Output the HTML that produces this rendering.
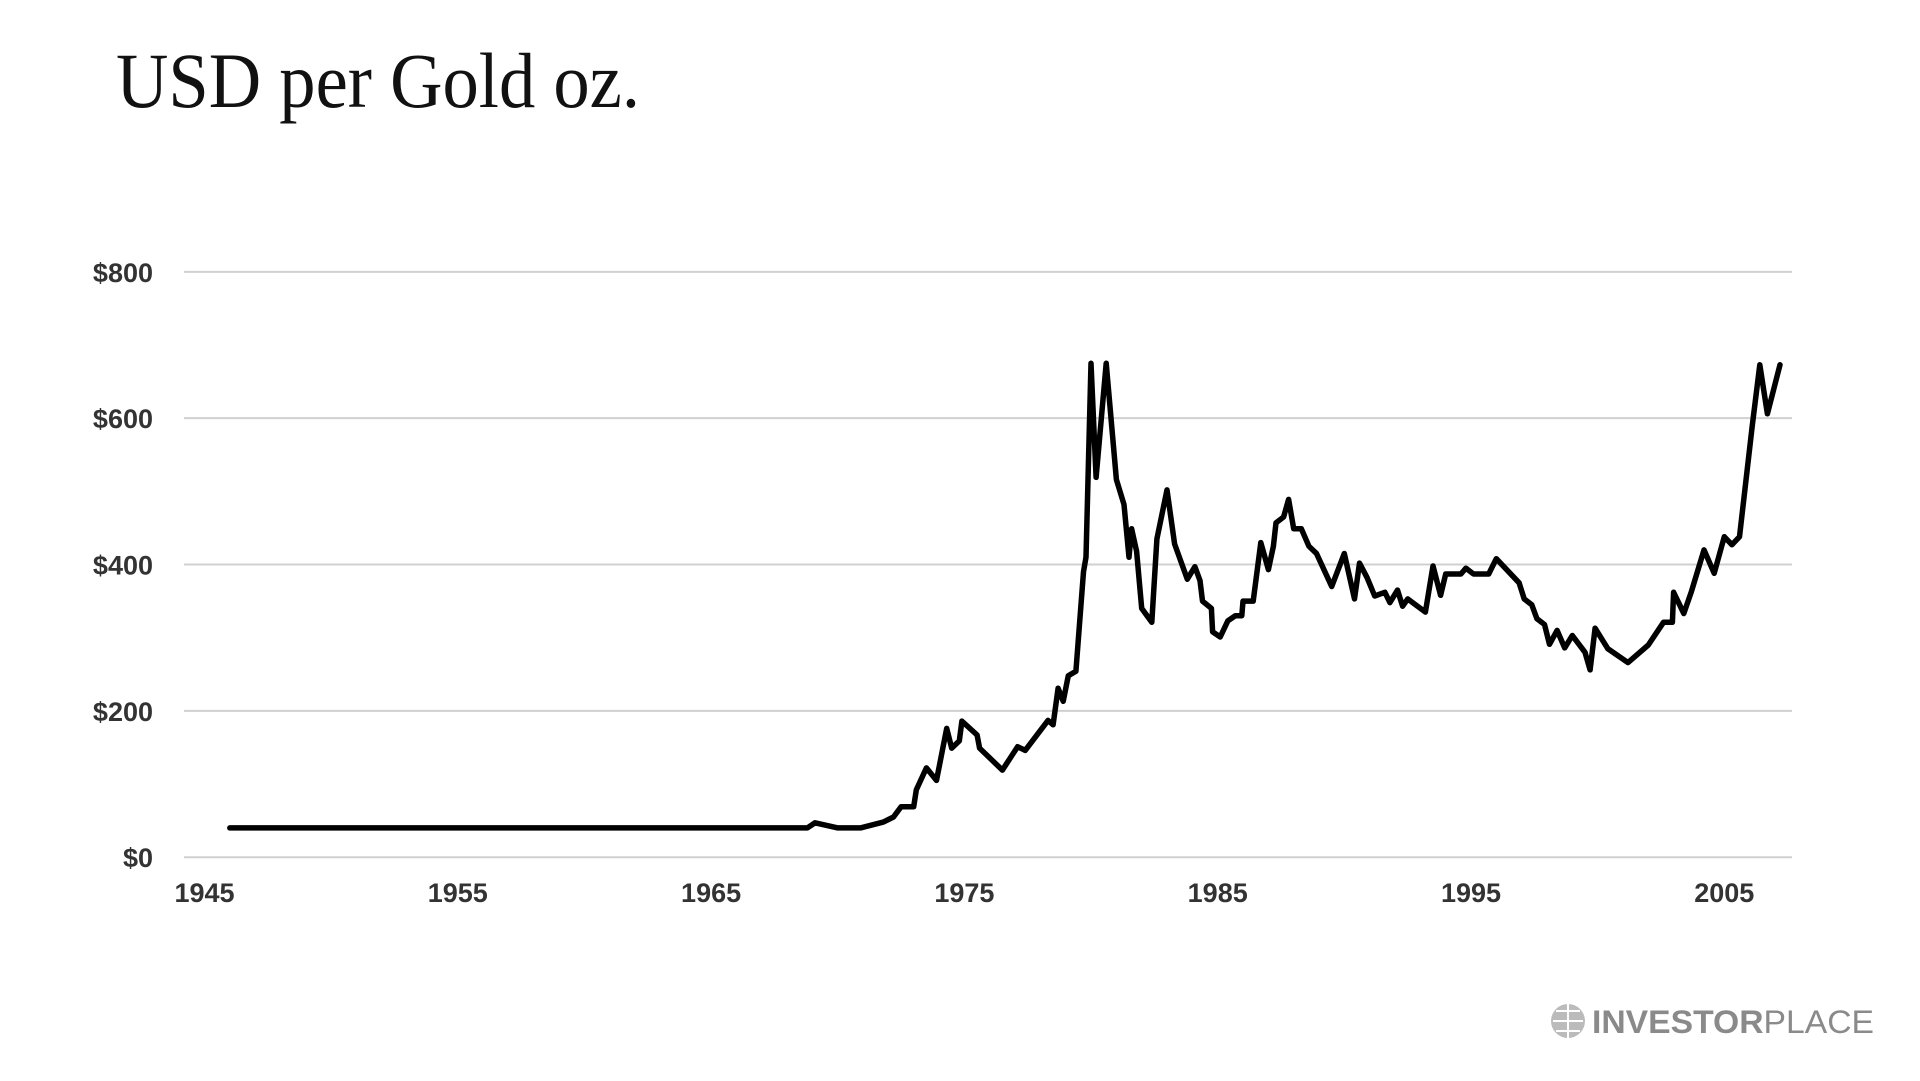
<!DOCTYPE html>
<html><head><meta charset="utf-8"><style>
html,body{margin:0;padding:0;background:#fff;width:1920px;height:1081px;overflow:hidden}
svg{display:block}
</style></head><body>
<svg id="chart" width="1920" height="1081" viewBox="0 0 1920 1081" xmlns="http://www.w3.org/2000/svg">
<text x="116" y="107" font-family="'Liberation Serif',serif" font-size="78" textLength="524" lengthAdjust="spacingAndGlyphs" fill="#111">USD per Gold oz.</text>
<g id="grid"></g>
<g id="ylabels"></g>
<g id="xlabels"></g>
<path id="line" fill="none" stroke="#000" stroke-width="5.5" stroke-linejoin="round" stroke-linecap="round"/>
<g>
<circle cx="1568" cy="1021" r="17" fill="#bbb"/>
<path d="M1553 1021h30M1568 1004v34M1556 1011h24M1556 1031h24" stroke="#fff" stroke-width="2" fill="none"/>
<text x="1592" y="1033" font-family="'Liberation Sans',sans-serif" font-size="32" textLength="282" lengthAdjust="spacingAndGlyphs" fill="#8a8a8a"><tspan font-weight="bold">INVESTOR</tspan><tspan>PLACE</tspan></text>
</g>
</svg>
<script>
const yTicks=[0,200,400,600,800];
const yTickLabels=["$0","$200","$400","$600","$800"];
const xTicks=[1945,1955,1965,1975,1985,1995,2005];
const xTickLabels=["1945","1955","1965","1975","1985","1995","2005"];
const years=[1946,1968.8,1969.1,1970,1970.9,1971.8,1972.2,1972.5,1973,1973.1,1973.5,1973.9,1974.3,1974.5,1974.8,1974.9,1975.5,1975.6,1976.5,1977.1,1977.4,1978.3,1978.5,1978.7,1978.9,1979.1,1979.4,1979.7,1979.8,1980.0,1980.2,1980.6,1981.0,1981.3,1981.5,1981.6,1981.8,1982.0,1982.4,1982.6,1983.0,1983.3,1983.8,1984.1,1984.3,1984.4,1984.75,1984.8,1985.1,1985.4,1985.7,1985.95,1986.0,1986.4,1986.7,1987.0,1987.2,1987.3,1987.6,1987.8,1988.0,1988.3,1988.6,1988.9,1989.5,1990.0,1990.4,1990.6,1990.9,1991.2,1991.6,1991.8,1992.1,1992.3,1992.5,1993.2,1993.5,1993.8,1994.0,1994.6,1994.8,1995.1,1995.7,1996.0,1996.9,1997.1,1997.4,1997.6,1997.9,1998.1,1998.4,1998.7,1999.0,1999.5,1999.7,1999.9,2000.4,2001.2,2002.0,2002.6,2002.95,2003.0,2003.4,2003.7,2004.2,2004.6,2005.0,2005.3,2005.6,2006.1,2006.4,2006.7,2007.2];
const prices=[40,40,47,40,40,48,55,69,69,92,122,105,176,149,159,186,167,149,119,151,146,187,181,231,213,248,254,390,410,675,519,675,516,482,410,449,418,340,321,435,502,428,380,397,378,350,340,308,301,323,330,330,350,350,430,393,425,457,465,489,449,449,425,415,370,415,353,402,382,357,362,348,365,343,353,335,398,358,387,387,395,387,387,408,375,353,345,326,318,291,310,286,303,280,256,313,285,266,290,321,321,362,333,363,420,388,438,427,438,589,673,606,673];
const X=y=>204.5+(y-1945)*25.33;
const Y=v=>857.2-v*0.7317;
const NS="http://www.w3.org/2000/svg";
const grid=document.getElementById('grid'),yl=document.getElementById('ylabels'),xl=document.getElementById('xlabels');
yTicks.forEach((t,i)=>{
 const l=document.createElementNS(NS,'line');
 l.setAttribute('x1',184);l.setAttribute('x2',1792);l.setAttribute('y1',Y(t));l.setAttribute('y2',Y(t));
 l.setAttribute('stroke','#d0d0d0');l.setAttribute('stroke-width','2');
 
 
 grid.appendChild(l);
 const tx=document.createElementNS(NS,'text');
 tx.setAttribute('x',153);tx.setAttribute('y',Y(t)+10);tx.setAttribute('text-anchor','end');
 tx.setAttribute('font-family',"'Liberation Sans',sans-serif");tx.setAttribute('font-weight','bold');tx.setAttribute('font-size','27');tx.setAttribute('fill','#333');
 tx.textContent=yTickLabels[i];
 
 
 yl.appendChild(tx);
});
xTicks.forEach((t,i)=>{
 const tx=document.createElementNS(NS,'text');
 tx.setAttribute('x',X(t));tx.setAttribute('y',902);tx.setAttribute('text-anchor','middle');
 tx.setAttribute('font-family',"'Liberation Sans',sans-serif");tx.setAttribute('font-weight','bold');tx.setAttribute('font-size','27');tx.setAttribute('fill','#333');
 tx.textContent=xTickLabels[i];
 
 
 xl.appendChild(tx);
});
document.getElementById('line').setAttribute('d',years.map((y,i)=>(i?'L':'M')+X(y).toFixed(1)+' '+Y(prices[i]).toFixed(1)).join(''));
</script>
</body></html>
